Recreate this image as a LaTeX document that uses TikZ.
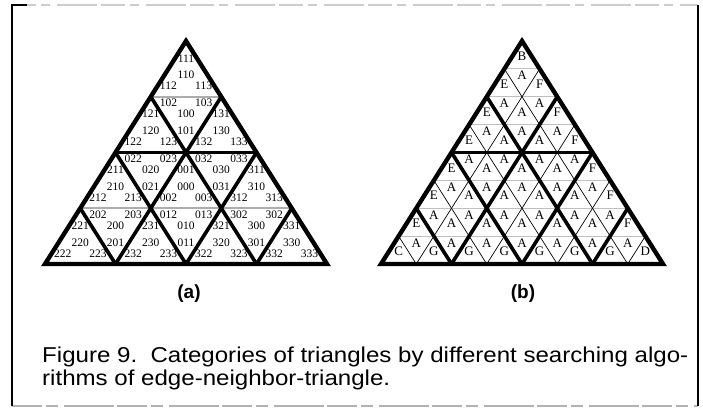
\documentclass[tikz,border=0pt]{standalone}
\usepackage{fontspec}
\setmainfont{Liberation Serif}
\newfontfamily\capfont{Liberation Sans}
\newcommand\Wd{35.25}
\newcommand\Hd{27.875}
\newcommand\Ay{41}
% #1 name prefix, #2 centre x, #3 row, #4 style, #5 frac upright, #6 frac inverted, #7 labels
\newcommand\rowlabels[7]{%
  \foreach \lab [count=\t from 0] in {#7}{%
    \pgfmathsetmacro\xx{#2 - #3*\Wd/2 + \t*\Wd/2}%
    \pgfmathsetmacro\yy{\Ay + (#3 + (isodd(\t) ? #6 : #5))*\Hd}%
    \node[#4] (#1-#3-\t) at (\xx,\yy) {\lab};
  }%
}
\begin{document}
\begin{tikzpicture}[x=1pt,y=-1pt,
  thickln/.style={line width=3.6pt, line cap=round},
  outerln/.style={line width=4.4pt, line join=miter},
  grayln/.style={line width=1.6pt, gray!65},
  thinln/.style={line width=0.7pt},
  thinh/.style={line width=0.9pt, gray!50},
  numlbl/.style={font=\fontsize{11.5}{11.5}\selectfont, inner sep=0pt},
  catlbl/.style={font=\fontsize{13}{13}\selectfont, inner sep=0pt},
  framev/.style={line width=1.4pt},
  frameh/.style={line width=1.1pt, gray!40, dash pattern=on 24pt off 5pt on 9pt off 7pt on 40pt off 4pt},
  frameb/.style={line width=1.2pt, gray!60, dash pattern=on 30pt off 4pt on 12pt off 6pt on 50pt off 3pt},
  sublbl/.style={font=\capfont\bfseries\fontsize{19}{19}\selectfont, inner sep=0pt},
  captxt/.style={anchor=base west, inner sep=0pt, xscale=1.12, font=\capfont\fontsize{21.5}{21.5}\selectfont}
]
\useasboundingbox (0,0) rectangle (703,409);
% frame
\coordinate (tl) at (12,5); \coordinate (tr) at (698,5);
\coordinate (bl) at (12,406); \coordinate (br) at (698,406);
\coordinate (tlc) at (27,5);
\draw[frameh] (tl) -- (tr);
\draw[frameb] (bl) -- (br);
\draw[framev] (tlc) -- (tl) -- (bl);
\draw[framev] (tr) -- (br);
% lattice points
\foreach \r in {0,...,8}{
  \foreach \k in {0,...,\r}{
    \coordinate (a-\r-\k) at ({186 - \r*\Wd/2 + \k*\Wd}, {\Ay + \r*\Hd});
    \coordinate (b-\r-\k) at ({522 - \r*\Wd/2 + \k*\Wd}, {\Ay + \r*\Hd});
  }
}
% ---------- (a) ----------
\draw[grayln] (a-2-0) -- (a-2-2);
\draw[grayln] (a-6-0) -- (a-6-6);
\draw[thickln] (a-4-0) -- (a-4-4);
\foreach \m [evaluate=\m as \e using int(8-\m)] in {2,4,6}{
  \draw[thickln] (a-\m-\m) -- (a-8-\m);
  \draw[thickln] (a-\m-0) -- (a-8-\e);
}
\draw[outerln] (a-0-0) -- (a-8-0) -- (a-8-8) -- cycle;
\rowlabels{la}{186}{0}{numlbl}{0.62}{0.22}{111}
\rowlabels{la}{186}{1}{numlbl}{0.62}{0.22}{112,110,113}
\rowlabels{la}{186}{2}{numlbl}{0.62}{0.22}{121,102,100,103,131}
\rowlabels{la}{186}{3}{numlbl}{0.62}{0.22}{122,120,123,101,132,130,133}
\rowlabels{la}{186}{4}{numlbl}{0.62}{0.22}{211,022,020,023,001,032,030,033,311}
\rowlabels{la}{186}{5}{numlbl}{0.62}{0.22}{212,210,213,021,002,000,003,031,312,310,313}
\rowlabels{la}{186}{6}{numlbl}{0.62}{0.22}{221,202,200,203,231,012,010,013,321,302,300,302,331}
\rowlabels{la}{186}{7}{numlbl}{0.62}{0.22}{222,220,223,201,232,230,233,011,322,320,323,301,332,330,333}
% ---------- (b) ----------
\foreach \r in {1,2,3,5,6,7}{
  \draw[thinh] (b-\r-0) -- (b-\r-\r);
}
\foreach \m [evaluate=\m as \e using int(8-\m)] in {1,...,7}{
  \draw[thinln] (b-\m-\m) -- (b-8-\m);
  \draw[thinln] (b-\m-0) -- (b-8-\e);
}
\draw[thickln] (b-4-0) -- (b-4-4);
\foreach \m [evaluate=\m as \e using int(8-\m)] in {2,4,6}{
  \draw[thickln] (b-\m-\m) -- (b-8-\m);
  \draw[thickln] (b-\m-0) -- (b-8-\e);
}
\draw[outerln] (b-0-0) -- (b-8-0) -- (b-8-8) -- cycle;
\rowlabels{lb}{522}{0}{catlbl}{0.55}{0.24}{B}
\rowlabels{lb}{522}{1}{catlbl}{0.55}{0.24}{E,A,F}
\rowlabels{lb}{522}{2}{catlbl}{0.55}{0.24}{E,A,A,A,F}
\rowlabels{lb}{522}{3}{catlbl}{0.55}{0.24}{E,A,A,A,A,A,F}
\rowlabels{lb}{522}{4}{catlbl}{0.55}{0.24}{E,A,A,A,A,A,A,A,F}
\rowlabels{lb}{522}{5}{catlbl}{0.55}{0.24}{E,A,A,A,A,A,A,A,A,A,F}
\rowlabels{lb}{522}{6}{catlbl}{0.55}{0.24}{E,A,A,A,A,A,A,A,A,A,A,A,F}
\rowlabels{lb}{522}{7}{catlbl}{0.55}{0.24}{C,A,G,A,G,A,G,A,G,A,G,A,G,A,D}
% ---------- captions ----------
\node[sublbl] (capa) at (189,294) {(a)};
\node[sublbl] (capb) at (523,294) {(b)};
\node[captxt] (cap1) at (42,362) {Figure 9.\ \ Categories of triangles by different searching algo-};
\node[captxt] (cap2) at (42,385) {rithms of edge-neighbor-triangle.};
\end{tikzpicture}
\end{document}
